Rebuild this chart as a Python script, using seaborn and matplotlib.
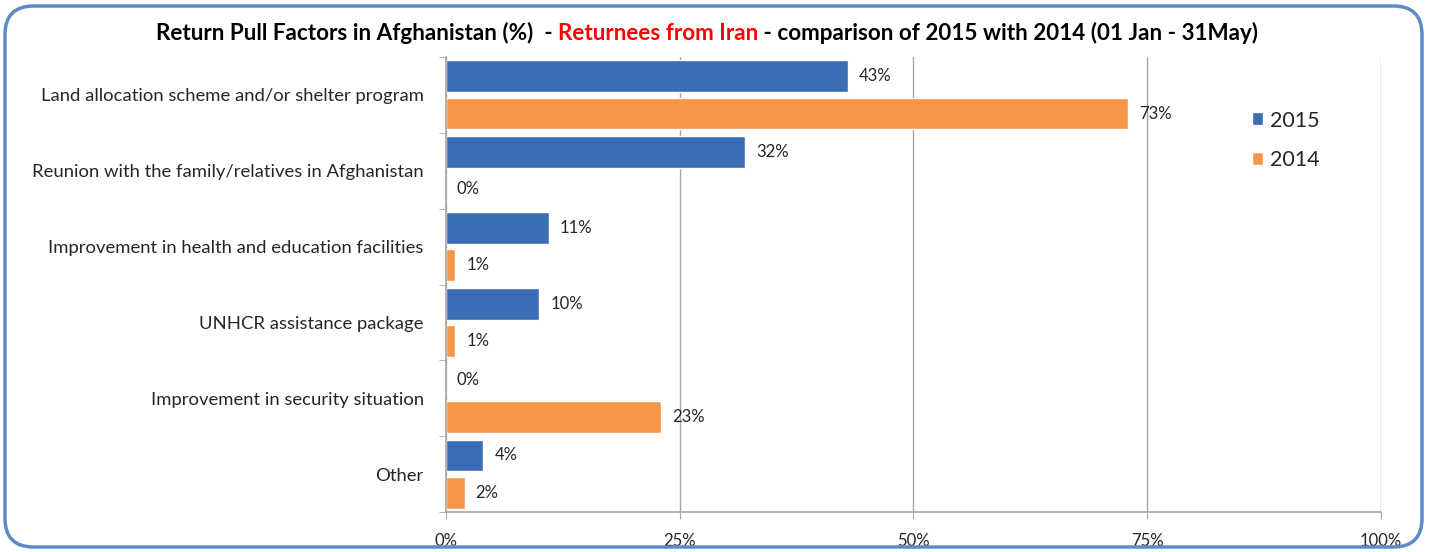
import matplotlib
matplotlib.use("Agg")
from matplotlib import pyplot as plt
from matplotlib.patches import FancyBboxPatch
from matplotlib.ticker import FixedLocator, PercentFormatter
import numpy as np
import pandas
import seaborn as sns

# Data
factors = ["Land allocation scheme and/or shelter program",
           "Reunion with the family/relatives in Afghanistan",
           "Improvement in health and education facilities",
           "UNHCR assistance package",
           "Improvement in security situation",
           "Other"]
years = ["2015", "2014"]
values_2015 = [43, 32, 11, 10, 0, 4]
values_2014 = [73, 0, 1, 1, 23, 2]

dataframe = pandas.DataFrame({
    "Factor": factors * 2,
    "Year": [years[0]] * len(factors) + [years[1]] * len(factors),
    "Percent": values_2015 + values_2014,
})

sns.set_style("white")
plt.rcParams["font.family"] = ["Lato", "DejaVu Sans"]

fig = plt.figure(figsize=(14.29, 5.52), dpi=100)
ax = fig.add_axes([0.312, 0.0725, 0.6544, 0.8242])

palette = {"2015": "#3A6DB3", "2014": "#F79646"}
g = sns.barplot(data=dataframe, y="Factor", x="Percent", hue="Year",
                hue_order=years, order=factors, palette=palette,
                orient="h", width=0.98, gap=0.14, ax=ax, saturation=1)

for cont in ax.containers:
    ax.bar_label(cont, fmt="%g%%", padding=8, fontsize=12)

ax.set_xlim(0, 100)
ax.set_ylim(len(factors) - 0.5, -0.5)
ax.xaxis.set_major_locator(FixedLocator([0, 25, 50, 75, 100]))
ax.xaxis.set_major_formatter(PercentFormatter(decimals=0))
ax.grid(axis="x", color="#A6A6A6", linewidth=1)
ax.set_axisbelow(True)
ax.set_xlabel("")
ax.set_ylabel("")

ax.yaxis.set_minor_locator(FixedLocator(np.arange(-0.5, len(factors), 1)))
ax.tick_params(axis="y", which="major", length=0, pad=16, labelsize=13.3)
ax.tick_params(axis="y", which="minor", length=5, color="#A6A6A6", direction="out", left=True)
ax.tick_params(axis="x", which="major", length=5, color="#A6A6A6", direction="out", bottom=True,
               labelsize=12, pad=10)

for side in ["top", "right"]:
    ax.spines[side].set_visible(False)
for side in ["left", "bottom"]:
    ax.spines[side].set_color("#A6A6A6")
    ax.spines[side].set_linewidth(1.2)

leg = ax.legend(loc="upper right", bbox_to_anchor=(0.955, 0.925), frameon=False,
                fontsize=15.5, handlelength=0.55, handleheight=0.55, labelspacing=0.9,
                handletextpad=0.3)

# Title in three colours
parts = [("Return Pull Factors in Afghanistan (%)  - ", "black"),
         ("Returnees from Iran", "#FF0000"),
         (" - comparison of 2015 with 2014 (01 Jan - 31May)", "black")]
renderer = fig.canvas.get_renderer()
texts = []
for s, c in parts:
    texts.append(fig.text(0, 1 - 33 / 552, s, color=c, fontsize=16.2, fontweight="bold",
                          va="center", ha="left"))
widths = [t.get_window_extent(renderer).width for t in texts]
x = 707 - sum(widths) / 2
for t, w in zip(texts, widths):
    t.set_x(x / 1429)
    x += w

border = FancyBboxPatch((5 / 1429, 5 / 552), 1417 / 1429, 541 / 552,
                        boxstyle="round,pad=0,rounding_size=0.02",
                        transform=fig.transFigure, facecolor="none",
                        edgecolor="#5B8BC9", linewidth=2.5, mutation_aspect=1429 / 552)
fig.patches.append(border)

fig.savefig("out.png", dpi=100)
